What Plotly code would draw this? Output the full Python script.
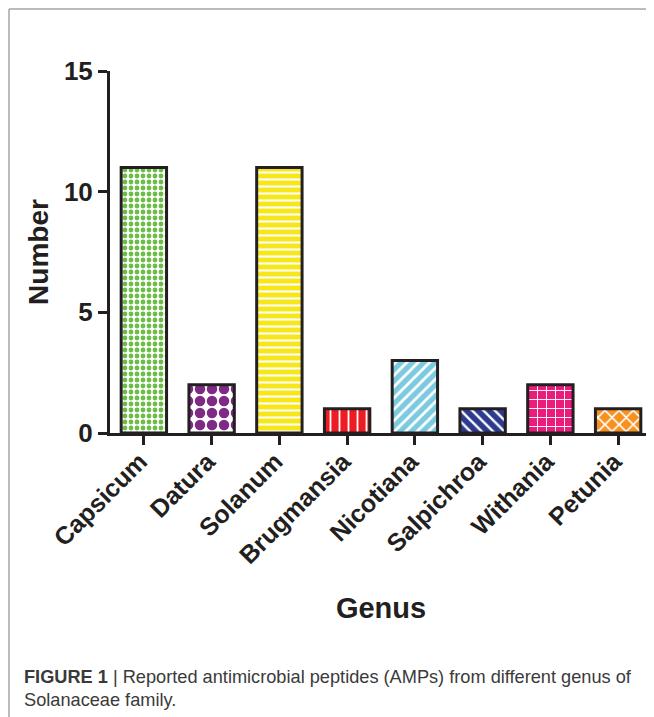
import plotly.graph_objects as go

genus = ["Capsicum", "Datura", "Solanum", "Brugmansia", "Nicotiana", "Salpichroa", "Withania", "Petunia"]
counts = [11, 2, 11, 1, 3, 1, 2, 1]
y_ticks = [0, 5, 10, 15]

base = ["white", "white", "#f6e71b", "#ed1c24", "#7bcadf", "#2c3a8f", "#ec1c7c", "#f7901e"]
shapes_p = [".", ".", "-", "|", "/", "\\", "+", "x"]
fg = ["#6cbd45", "#7f2a84", "white", "white", "white", "white", "white", "white"]
psize = [6, 12, 7, 9, 8, 8, 9, 10]
psolid = [0.5, 0.6, 0.3, 0.2, 0.35, 0.3, 0.2, 0.3]

# page is drawn with an 8px body margin; figure coordinates are reference minus 8
OFF = 8
W, H = 654 - OFF, 717 - OFF
L, R, T, B = 110 - OFF, 2, 71 - OFF, H - (433 - OFF)
pw, ph = W - L - R, H - T - B


def px(x):
    return (x - OFF - L) / pw


def py(y):
    return (H - B - (y - OFF)) / ph


fig = go.Figure()
for i, g in enumerate(genus):
    fig.add_trace(go.Bar(
        x=[g], y=[counts[i]], name=g,
        marker=dict(
            color=base[i], opacity=1,
            line=dict(color="#231f20", width=3),
            pattern=dict(shape=shapes_p[i], fgcolor=fg[i], fgopacity=1, size=psize[i],
                         solidity=psolid[i], fillmode="overlay"),
        ),
        width=0.67,
    ))

fig.update_layout(
    width=W, height=H, barmode="overlay",
    margin=dict(l=L, r=R, t=T, b=B, autoexpand=False),
    plot_bgcolor="white", paper_bgcolor="white",
    showlegend=False,
    font=dict(family="Liberation Sans, Arial, sans-serif", color="#231f20"),
    xaxis=dict(
        categoryorder="array", categoryarray=genus,
        range=[-0.5, 7.5], showline=True, linecolor="#231f20", linewidth=3,
        ticks="outside", ticklen=9, tickwidth=3, tickcolor="#231f20",
        tickangle=-45, ticklabelstandoff=-8, ticklabelshift=-4,
        tickfont=dict(size=25, family="Liberation Sans, Arial", color="#231f20", weight="bold"),
        title=dict(text="<b>Genus</b>", font=dict(size=29), standoff=30),
        showgrid=False, zeroline=False, fixedrange=True,
    ),
    yaxis=dict(
        range=[0, 15], tickvals=y_ticks, showline=True, linecolor="#231f20", linewidth=3,
        ticks="outside", ticklen=9, tickwidth=3, tickcolor="#231f20",
        tickfont=dict(size=26, family="Liberation Sans, Arial", color="#231f20", weight="bold"),
        title=dict(text="<b>Number</b>", font=dict(size=28), standoff=8),
        showgrid=False, zeroline=False, fixedrange=True,
    ),
    shapes=[
        dict(type="line", xref="paper", yref="paper", x0=px(9), x1=px(654), y0=py(9), y1=py(9),
             line=dict(color="#a6a6a6", width=1.5)),
        dict(type="line", xref="paper", yref="paper", x0=px(9), x1=px(9), y0=py(9), y1=py(717),
             line=dict(color="#a6a6a6", width=1.5)),
    ],
    annotations=[
        dict(xref="paper", yref="paper", x=px(22), y=py(677), xanchor="left", yanchor="middle",
             showarrow=False, align="left",
             text="<b>FIGURE 1</b> | Reported antimicrobial peptides (AMPs) from different genus of",
             font=dict(size=18.2, color="#3a3a3a", family="Liberation Sans, Arial")),
        dict(xref="paper", yref="paper", x=px(22), y=py(700), xanchor="left", yanchor="middle",
             showarrow=False, align="left",
             text="Solanaceae family.",
             font=dict(size=18.2, color="#3a3a3a", family="Liberation Sans, Arial")),
    ],
)

fig.write_html("out.html")
